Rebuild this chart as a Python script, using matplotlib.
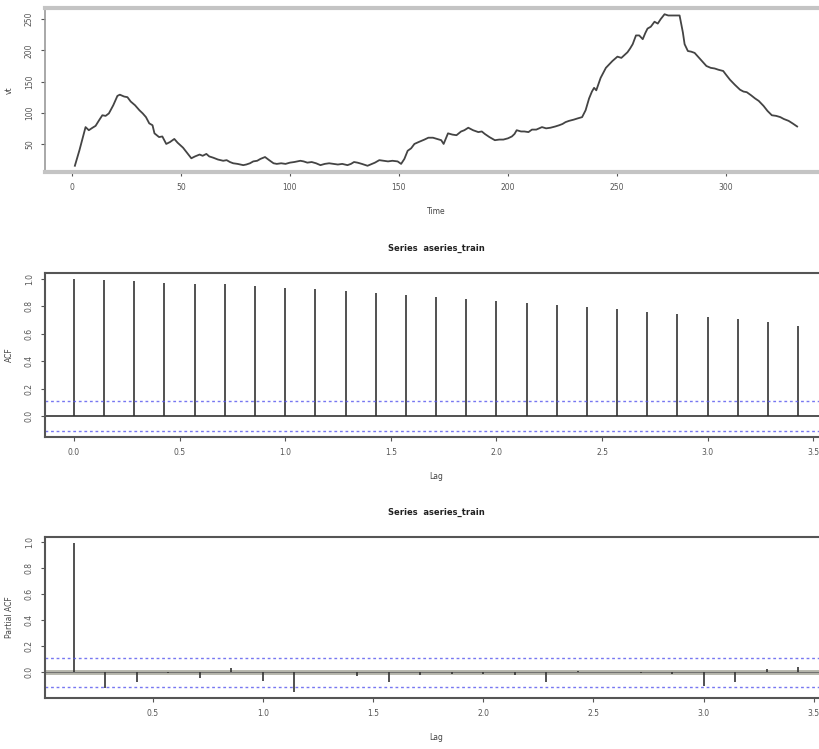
import matplotlib
matplotlib.use("Agg")
import matplotlib.pyplot as plt
import numpy as np

# series (time, value)
ts_time = [1.4, 3.5, 6.3, 7.8, 9.5, 10.9, 12.5, 14, 15.5, 17, 19, 20.9, 22, 24, 25.5, 27, 29, 31,
           32.5, 34, 35.5, 37, 37.9, 40, 41.5, 43.3, 45, 47, 48.5, 51, 53, 54.8, 56.5, 58.6, 60,
           61.7, 63, 64.8, 67, 69.4, 71, 72.5, 74, 76, 78.6, 80, 81.7, 83.2, 85, 86.5, 88.6, 90.5,
           92.5, 94, 96, 98, 100, 102, 104.8, 106.3, 108, 110, 112, 114, 116, 118, 120, 122, 124,
           126.4, 128, 129.4, 131, 133, 135.6, 137, 139, 141, 143, 145, 147, 149.4, 151, 152.5,
           154, 155.6, 157.1, 159, 161.7, 163.5, 165.6, 167.5, 169.4, 170.5, 172.5, 174.5, 176.4,
           178.5, 180, 181.8, 184, 186.4, 188, 189.4, 191.5, 194, 196, 197.9, 200, 201.8, 203, 204,
           206, 207.5, 209.4, 211, 213, 215.6, 217.5, 219.5, 221.7, 223.5, 225, 226.4, 228, 230.2,
           232, 234, 235.6, 237.2, 238.5, 239.5, 240.5, 242.5, 244.9, 246.5, 247.9, 250.2, 252,
           254.8, 256, 257.2, 258.7, 260.2, 261.8, 263, 264, 265.5, 267.2, 268.7, 270, 271.8,
           273.5, 275.6, 277, 278.7, 280.2, 281, 282.5, 284, 285.6, 287.9, 289.5, 291, 293, 294.8,
           296.5, 298.7, 300, 301.8, 304, 306.4, 308, 309.5, 311.5, 313.3, 315, 317.2, 319, 321,
           323, 324.9, 326.5, 328.7, 330.5, 332.6]
ts_value = [15, 40, 77, 72, 76, 79, 88, 96, 95, 99, 112, 127, 129, 126, 125, 118, 112, 104,
            99, 93, 83, 80, 67, 61, 62, 50, 53, 58, 52, 44, 35, 27, 30, 33, 31,
            34, 30, 28, 25, 23, 24, 21, 19, 18, 16, 17, 19, 22, 23, 26, 29, 24,
            19, 18, 19, 18, 20, 21, 23, 22, 20, 21, 19, 16, 18, 19, 18, 17, 18,
            16, 18, 21, 20, 18, 15, 17, 20, 24, 23, 22, 23, 22, 18, 26,
            39, 43, 50, 53, 57, 60, 60, 58, 56, 50, 67, 65, 64,
            70, 72, 76, 72, 69, 70, 66, 61, 56, 57, 57, 59, 62, 66, 72,
            70, 70, 69, 73, 73, 77, 75, 76, 78, 80, 82, 85, 87, 89,
            91, 93, 104, 123, 134, 140, 136, 156, 172, 178, 183, 190, 188,
            197, 203, 210, 224, 224, 218, 228, 235, 238, 246, 243, 250, 258,
            256, 256, 256, 256, 229, 210, 199, 198, 196, 187, 181, 175, 172, 171,
            169, 167, 161, 153, 145, 137, 134, 133, 128, 123, 119, 111, 103, 96,
            95, 93, 90, 87, 83, 78]

FREQ = 7
acf_values = [1.0, 0.993, 0.987, 0.973, 0.967, 0.960, 0.948, 0.936, 0.925, 0.913, 0.898, 0.880,
              0.868, 0.853, 0.843, 0.822, 0.810, 0.792, 0.779, 0.762, 0.743, 0.723, 0.705, 0.688,
              0.657]
pacf_values = [0.992, -0.122, -0.076, -0.005, -0.046, 0.03, -0.064, -0.153, 0.002, -0.025,
               -0.071, -0.02, -0.015, -0.01, -0.02, -0.076, 0.01, 0.005, -0.005, -0.012,
               -0.107, -0.071, 0.025, 0.038]
ci = 0.11

W, H = 820, 749
fig = plt.figure(figsize=(W / 100, H / 100), dpi=100)


def px_axes(left, top, right, bottom):
    return fig.add_axes([left / W, 1 - bottom / H, (right - left) / W, (bottom - top) / H])


def style(ax, spine_color, spine_lw):
    for s in ax.spines.values():
        s.set_color(spine_color)
        s.set_linewidth(spine_lw)
    ax.tick_params(length=3, width=0.8, colors="#555555", labelsize=5.5, pad=5)
    for lab in ax.get_yticklabels():
        lab.set_rotation(90)
        lab.set_va("center")


# time series
ax1 = px_axes(45, 8, 827, 172)
ax1.plot(ts_time, ts_value, color="#444444", lw=1.3)
ax1.set_xlim(-12.3, 346.3)
ax1.set_ylim(5, 268)
ax1.set_xticks([0, 50, 100, 150, 200, 250, 300])
ax1.set_yticks([50, 100, 150, 200, 250])
style(ax1, "#c4c4c4", 3)
ax1.spines["left"].set_linewidth(1.2)
ax1.spines["left"].set_color("#999999")
ax1.set_xlabel("Time", fontsize=5.5, color="#444444", labelpad=11)
ax1.set_ylabel("vt", fontsize=5.5, color="#444444", labelpad=8)

# ACF
acf_lags = np.arange(len(acf_values)) / FREQ
ax2 = px_axes(45, 273, 827, 437)
ax2.vlines(acf_lags, 0, acf_values, color="#333333", lw=1.2)
ax2.axhline(0, color="#333333", lw=1.2)
for c in (ci, -ci):
    ax2.axhline(c, color="#5555ee", lw=1.0, ls=(0, (2, 2)), alpha=0.8)
ax2.set_xlim(-0.137, 3.565)
ax2.set_ylim(-0.154, 1.044)
ax2.set_xticks([0, 0.5, 1.0, 1.5, 2.0, 2.5, 3.0, 3.5])
ax2.set_xticklabels(["0.0", "0.5", "1.0", "1.5", "2.0", "2.5", "3.0", "3.5"])
ax2.set_yticks([0, 0.2, 0.4, 0.6, 0.8, 1.0])
ax2.set_yticklabels(["0.0", "0.2", "0.4", "0.6", "0.8", "1.0"])
style(ax2, "#555555", 1.5)
ax2.set_xlabel("Lag", fontsize=5.5, color="#444444", labelpad=11)
ax2.set_ylabel("ACF", fontsize=5.5, color="#444444", labelpad=8)
ax2.text(0.5, 1.15, "Series  aseries_train", transform=ax2.transAxes, ha="center",
         va="center", fontsize=6, fontweight="bold", color="#222222")

# PACF
pacf_lags = np.arange(1, len(pacf_values) + 1) / FREQ
ax3 = px_axes(45, 537, 827, 698)
ax3.axhline(0, color="#b4b4aa", lw=3.5)
ax3.axhline(0, color="#666666", lw=0.6)
ax3.vlines(pacf_lags, 0, pacf_values, color="#333333", lw=1.2)
for c in (ci, -ci):
    ax3.axhline(c, color="#5555ee", lw=1.0, ls=(0, (2, 2)), alpha=0.8)
ax3.set_xlim(0.012, 3.56)
ax3.set_ylim(-0.196, 1.036)
ax3.set_xticks([0.5, 1.0, 1.5, 2.0, 2.5, 3.0, 3.5])
ax3.set_xticklabels(["0.5", "1.0", "1.5", "2.0", "2.5", "3.0", "3.5"])
ax3.set_yticks([0, 0.2, 0.4, 0.6, 0.8, 1.0])
ax3.set_yticklabels(["0.0", "0.2", "0.4", "0.6", "0.8", "1.0"])
style(ax3, "#555555", 1.5)
ax3.set_xlabel("Lag", fontsize=5.5, color="#444444", labelpad=11)
ax3.set_ylabel("Partial ACF", fontsize=5.5, color="#444444", labelpad=8)
ax3.text(0.5, 1.15, "Series  aseries_train", transform=ax3.transAxes, ha="center",
         va="center", fontsize=6, fontweight="bold", color="#222222")

fig.savefig("out.png", dpi=100)
